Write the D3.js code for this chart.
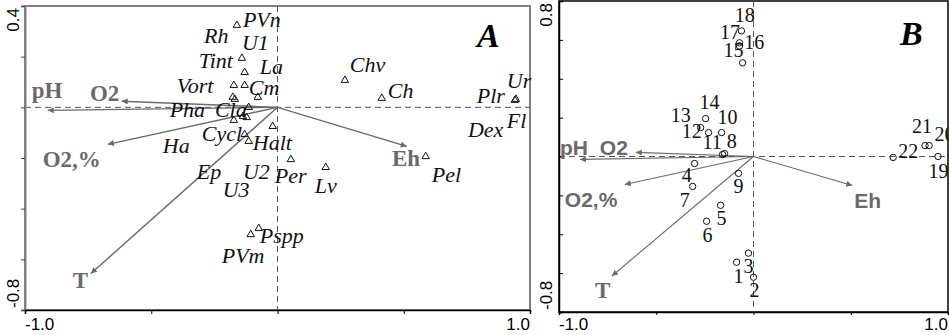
<!DOCTYPE html>
<html>
<head>
<meta charset="utf-8">
<script src="https://cdn.jsdelivr.net/npm/d3@7"></script>
<style>
  body { margin: 0; background: #fff; }
  svg { display: block; }
</style>
</head>
<body>
<svg id="chart" width="949" height="335"></svg>
<script>
// ---- data (ordination scores) ----
const envNames = ["pH", "O2", "O2,%", "T", "Eh"];
const envA = [[-0.910, -0.012], [-0.617, 0.024], [-0.672, -0.146], [-0.739, -0.656], [0.512, -0.154]];
const envLabelA = [[-0.973, 0.036], [-0.743, 0.024], [-0.930, -0.237], [-0.811, -0.715], [0.453, -0.233]];
const envB = [[-0.892, -0.015], [-0.605, 0.021], [-0.662, -0.144], [-0.728, -0.615], [0.508, -0.149]];
const envLabelB = [[-0.995, 0.010], [-0.790, 0.010], [-0.970, -0.262], [-0.815, -0.728], [0.518, -0.267]];

// species (triangles), panel A
const speciesPts = [
  [-0.161, 0.324], [-0.141, 0.194], [-0.130, 0.138], [-0.173, 0.087], [-0.130, 0.087],
  [-0.078, 0.040], [-0.177, 0.040], [-0.169, 0.032], [-0.114, 0.000], [-0.137, -0.036],
  [-0.122, -0.040], [-0.173, -0.051], [-0.019, -0.075], [-0.130, -0.107], [-0.114, -0.134],
  [0.053, -0.206], [0.191, -0.237], [-0.106, -0.502], [-0.074, -0.478], [0.267, 0.107],
  [0.413, 0.036], [0.944, 0.032], [0.940, 0.028], [0.587, -0.194]
];
const speciesNames = ["Rh", "PVn", "U1", "Tint", "La", "Vort", "Cm", "Pha", "Cla", "Cycl", "Halt", "Ha",
  "Ep", "U2", "U3", "Per", "Lv", "Pspp", "PVm", "Chv", "Ch", "Ur", "Plr", "Dex", "Fl", "Pel"];
const speciesLabelPos = [
  [-0.291, 0.253], [-0.137, 0.316], [-0.141, 0.225], [-0.312, 0.154], [-0.070, 0.130], [-0.399, 0.055],
  [-0.114, 0.047], [-0.427, -0.040], [-0.248, -0.040], [-0.300, -0.134], [-0.098, -0.170], [-0.454, -0.182],
  [-0.320, -0.281], [-0.137, -0.281], [-0.217, -0.352], [-0.011, -0.300], [0.148, -0.340], [-0.070, -0.534],
  [-0.221, -0.613], [0.286, 0.138], [0.437, 0.036], [0.908, 0.075], [0.789, 0.016], [0.754, -0.119],
  [0.908, -0.083], [0.611, -0.296]
];

// sites (circles), panel B, sites 1..22
const sitePts = [
  [-0.087, -0.544], [0.000, -0.621], [-0.026, -0.497], [-0.303, -0.036], [-0.169, -0.251],
  [-0.241, -0.333], [-0.313, -0.154], [-0.149, 0.015], [-0.077, -0.087], [-0.164, 0.123],
  [-0.159, 0.010], [-0.272, 0.149], [-0.231, 0.123], [-0.246, 0.195], [-0.056, 0.482],
  [-0.072, 0.569], [-0.062, 0.646], [-0.072, 0.585], [0.949, 0.000], [0.903, 0.056],
  [0.882, 0.056], [0.718, -0.005]
];
const siteLabelPos = [
  [-0.103, -0.652], [-0.021, -0.723], [-0.051, -0.600], [-0.369, -0.133], [-0.190, -0.354],
  [-0.262, -0.441], [-0.379, -0.262], [-0.138, 0.046], [-0.103, -0.190], [-0.185, 0.169],
  [-0.262, 0.041], [-0.369, 0.097], [-0.425, 0.180], [-0.277, 0.246], [-0.154, 0.513],
  [-0.048, 0.552], [-0.172, 0.607], [-0.097, 0.692], [0.900, -0.113], [0.930, 0.082],
  [0.815, 0.123], [0.744, -0.010]
];

const ticksA = { x: [-1, -0.5, 0, 0.5, 1], y: [-0.8, -0.6, -0.4, -0.2, 0, 0.2, 0.4] };
const ticksB = { x: [-1, -0.5, 0, 0.5, 1], y: [-0.8, -0.6, -0.4, -0.2, 0, 0.2, 0.4, 0.6, 0.8] };

const svg = d3.select("#chart");
const grey = "#6a6a6a";

const defs = svg.append("defs");
defs.append("marker")
  .attr("id", "head")
  .attr("viewBox", "0 0 10 10")
  .attr("refX", 10).attr("refY", 5)
  .attr("markerWidth", 9).attr("markerHeight", 6)
  .attr("markerUnits", "userSpaceOnUse")
  .attr("orient", "auto")
  .append("path").attr("d", "M0,0L10,5L0,10z").attr("fill", grey);

// ================= Panel A =================
const xA = d3.scaleLinear().domain([-1, 1]).range([25, 530]);
const yA = d3.scaleLinear().domain([-0.8, 0.4]).range([310, 6]);
const gA = svg.append("g");

// frame (grey) and zero lines
gA.append("rect")
  .attr("x", xA(-1)).attr("y", yA(0.4))
  .attr("width", xA(1) - xA(-1)).attr("height", yA(-0.8) - yA(0.4))
  .attr("fill", "none").attr("stroke", "#808080").attr("stroke-width", 2);

gA.append("line")
  .attr("x1", xA(-1)).attr("x2", xA(1)).attr("y1", yA(0)).attr("y2", yA(0))
  .attr("stroke", "#555").attr("stroke-dasharray", "6,4");
gA.append("line")
  .attr("x1", xA(0)).attr("x2", xA(0)).attr("y1", yA(0.4)).attr("y2", yA(-0.8))
  .attr("stroke", "#555").attr("stroke-dasharray", "6,4");

const axLeftA = gA.append("g")
  .attr("transform", `translate(${xA(-1)},0)`)
  .call(d3.axisLeft(yA).tickValues(ticksA.y).tickSize(4).tickFormat(""));
axLeftA.select(".domain").attr("stroke", "#808080").attr("stroke-width", 2);
axLeftA.selectAll(".tick line").attr("stroke", "#444");

const axBotA = gA.append("g")
  .attr("transform", `translate(0,${yA(-0.8)})`)
  .call(d3.axisBottom(xA).tickValues(ticksA.x).tickSize(4).tickFormat(""));
axBotA.select(".domain").attr("stroke", "#000").attr("stroke-width", 1.5);

// env arrows A
gA.selectAll(".arrowA")
  .data(envA)
  .enter()
  .append("line")
  .attr("x1", xA(0)).attr("y1", yA(0))
  .attr("x2", d => xA(d[0])).attr("y2", d => yA(d[1]))
  .attr("stroke", grey).attr("stroke-width", 1.4)
  .attr("marker-end", "url(#head)");

gA.selectAll(".envLabA")
  .data(envNames)
  .enter()
  .append("text")
  .attr("x", (d, i) => xA(envLabelA[i][0]))
  .attr("y", (d, i) => yA(envLabelA[i][1]))
  .attr("font-family", "Liberation Serif, Times New Roman, serif")
  .attr("font-weight", "bold")
  .attr("font-size", "23px")
  .attr("fill", grey)
  .text(d => d);

// species triangles
gA.selectAll(".tri")
  .data(speciesPts)
  .enter()
  .append("path")
  .attr("d", d3.symbol().type(d3.symbolTriangle).size(24))
  .attr("transform", d => `translate(${xA(d[0])},${yA(d[1])})`)
  .attr("fill", "none").attr("stroke", "#111").attr("stroke-width", 1);

gA.selectAll(".spLab")
  .data(speciesNames)
  .enter()
  .append("text")
  .attr("x", (d, i) => xA(speciesLabelPos[i][0]))
  .attr("y", (d, i) => yA(speciesLabelPos[i][1]))
  .attr("font-family", "Liberation Serif, Times New Roman, serif")
  .attr("font-style", "italic")
  .attr("font-size", "22px")
  .attr("fill", "#111")
  .text(d => d);

gA.append("text")
  .attr("x", 477).attr("y", 47)
  .attr("font-family", "Liberation Serif, Times New Roman, serif")
  .attr("font-style", "italic").attr("font-weight", "bold")
  .attr("font-size", "34px")
  .text("A");

// axis end labels A
gA.append("text").attr("transform", "translate(19,8) rotate(-90)")
  .attr("text-anchor", "end").attr("font-family", "Liberation Sans, Arial, sans-serif")
  .attr("font-size", "17px").text("0.4");
gA.append("text").attr("transform", "translate(19,308) rotate(-90)")
  .attr("text-anchor", "start").attr("font-family", "Liberation Sans, Arial, sans-serif")
  .attr("font-size", "17px").text("-0.8");
gA.append("text").attr("x", xA(-1)).attr("y", 330)
  .attr("font-family", "Liberation Sans, Arial, sans-serif").attr("font-size", "17px").text("-1.0");
gA.append("text").attr("x", xA(1)).attr("y", 330).attr("text-anchor", "end")
  .attr("font-family", "Liberation Sans, Arial, sans-serif").attr("font-size", "17px").text("1.0");

// ================= Panel B =================
const xB = d3.scaleLinear().domain([-1, 1]).range([559, 948]);
const yB = d3.scaleLinear().domain([-0.8, 0.8]).range([312, 1]);
const gB = svg.append("g");

gB.append("rect")
  .attr("x", xB(-1)).attr("y", yB(0.8))
  .attr("width", xB(1) - xB(-1)).attr("height", yB(-0.8) - yB(0.8))
  .attr("fill", "none").attr("stroke", "#000").attr("stroke-width", 1.5);

gB.append("line")
  .attr("x1", xB(-1)).attr("x2", xB(1)).attr("y1", yB(0)).attr("y2", yB(0))
  .attr("stroke", "#555").attr("stroke-dasharray", "6,4");
gB.append("line")
  .attr("x1", xB(0)).attr("x2", xB(0)).attr("y1", yB(0.8)).attr("y2", yB(-0.8))
  .attr("stroke", "#555").attr("stroke-dasharray", "6,4");

const axLeftB = gB.append("g")
  .attr("transform", `translate(${xB(-1)},0)`)
  .call(d3.axisLeft(yB).tickValues(ticksB.y).tickSize(-4).tickFormat(""));
axLeftB.select(".domain").attr("stroke", "#000").attr("stroke-width", 1.5);

const axBotB = gB.append("g")
  .attr("transform", `translate(0,${yB(-0.8)})`)
  .call(d3.axisBottom(xB).tickValues(ticksB.x).tickSize(3).tickFormat(""));
axBotB.select(".domain").attr("stroke", "#000").attr("stroke-width", 1.5);

gB.selectAll(".arrowB")
  .data(envB)
  .enter()
  .append("line")
  .attr("x1", xB(0)).attr("y1", yB(0))
  .attr("x2", d => xB(d[0])).attr("y2", d => yB(d[1]))
  .attr("stroke", grey).attr("stroke-width", 1.1)
  .attr("marker-end", "url(#head)");

gB.selectAll(".envLabB")
  .data(envNames)
  .enter()
  .append("text")
  .attr("x", (d, i) => xB(envLabelB[i][0]))
  .attr("y", (d, i) => yB(envLabelB[i][1]))
  .attr("font-family", d => d === "T" ? "Liberation Serif, serif" : "Liberation Sans, Arial, sans-serif")
  .attr("font-weight", "bold")
  .attr("font-size", d => d === "T" ? "23px" : "21px")
  .attr("fill", grey)
  .text(d => d);

gB.selectAll(".site")
  .data(sitePts)
  .enter()
  .append("circle")
  .attr("cx", d => xB(d[0])).attr("cy", d => yB(d[1]))
  .attr("r", 3.2)
  .attr("fill", "none").attr("stroke", "#111").attr("stroke-width", 1);

gB.selectAll(".siteLab")
  .data(siteLabelPos)
  .enter()
  .append("text")
  .attr("x", d => xB(d[0]))
  .attr("y", d => yB(d[1]))
  .attr("font-family", "Liberation Serif, Times New Roman, serif")
  .attr("font-size", "20px")
  .attr("fill", "#111")
  .text((d, i) => i + 1);

gB.append("text")
  .attr("x", 900).attr("y", 45)
  .attr("font-family", "Liberation Serif, Times New Roman, serif")
  .attr("font-style", "italic").attr("font-weight", "bold")
  .attr("font-size", "34px")
  .text("B");

gB.append("text").attr("transform", "translate(552,3) rotate(-90)")
  .attr("text-anchor", "end").attr("font-family", "Liberation Sans, Arial, sans-serif")
  .attr("font-size", "17px").text("0.8");
gB.append("text").attr("transform", "translate(552,310) rotate(-90)")
  .attr("text-anchor", "start").attr("font-family", "Liberation Sans, Arial, sans-serif")
  .attr("font-size", "17px").text("-0.8");
gB.append("text").attr("x", xB(-1)).attr("y", 330)
  .attr("font-family", "Liberation Sans, Arial, sans-serif").attr("font-size", "17px").text("-1.0");
gB.append("text").attr("x", 948).attr("y", 330).attr("text-anchor", "end")
  .attr("font-family", "Liberation Sans, Arial, sans-serif").attr("font-size", "17px").text("1.0");
</script>
</body>
</html>
